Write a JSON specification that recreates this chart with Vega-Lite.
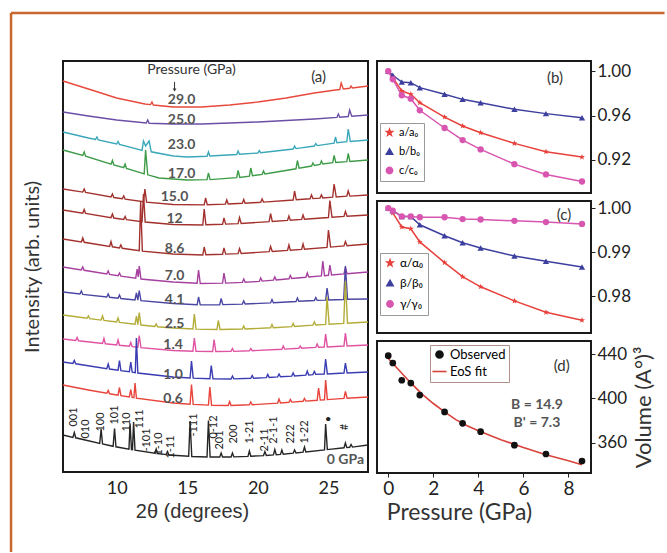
{
"$schema": "https://vega.github.io/schema/vega-lite/v6.json",
"background": "white",
"padding": {"left": 8, "top": 10, "right": 0, "bottom": 0},
"config": {"view": {"stroke": "#1a1a1a", "strokeWidth": 2}, "font": "Lato", "axis": {"grid": false, "domain": false, "labelColor": "#222", "titleColor": "#333", "titleFontWeight": "normal", "minExtent": 0, "tickColor": "#222", "labelFont": "Lato", "titleFont": "Lato"}},
"datasets": {
"xrd": [
{"p":"29.0","t":6.2,"i":391},{"p":"29.0","t":8,"i":383},{"p":"29.0","t":10,"i":374},{"p":"29.0","t":12,"i":368},{"p":"29.0","t":12.4,"i":367.4},{"p":"29.0","t":12.5,"i":370},{"p":"29.0","t":12.6,"i":367},{"p":"29.0","t":14,"i":365},{"p":"29.0","t":16,"i":365},{"p":"29.0","t":18,"i":367},{"p":"29.0","t":20,"i":370},{"p":"29.0","t":22,"i":374},{"p":"29.0","t":24,"i":379},{"p":"29.0","t":25.5,"i":382},{"p":"29.0","t":25.8,"i":382.5},{"p":"29.0","t":25.9,"i":389},{"p":"29.0","t":26.05,"i":383},{"p":"29.0","t":26.5,"i":383.7},{"p":"29.0","t":26.6,"i":386},{"p":"29.0","t":26.7,"i":384},{"p":"29.0","t":27.8,"i":386},
{"p":"25.0","t":6.2,"i":360},{"p":"25.0","t":8,"i":356},{"p":"25.0","t":10,"i":352},{"p":"25.0","t":12.1,"i":349},{"p":"25.0","t":12.2,"i":352},{"p":"25.0","t":12.3,"i":348.8},{"p":"25.0","t":14,"i":348},{"p":"25.0","t":16,"i":348},{"p":"25.0","t":18,"i":349},{"p":"25.0","t":20,"i":350},{"p":"25.0","t":22,"i":351.5},{"p":"25.0","t":24,"i":353},{"p":"25.0","t":25.6,"i":354.6},{"p":"25.0","t":25.7,"i":358},{"p":"25.0","t":25.8,"i":354.8},{"p":"25.0","t":26.4,"i":355.5},{"p":"25.0","t":26.5,"i":362},{"p":"25.0","t":26.65,"i":355.8},{"p":"25.0","t":27.8,"i":357},
{"p":"23.0","t":6.2,"i":340},{"p":"23.0","t":8,"i":334},{"p":"23.0","t":8.5,"i":332.5},{"p":"23.0","t":8.6,"i":335},{"p":"23.0","t":8.7,"i":332},{"p":"23.0","t":10,"i":328},{"p":"23.0","t":10.1,"i":330.5},{"p":"23.0","t":10.2,"i":327.6},{"p":"23.0","t":11.8,"i":321.6},{"p":"23.0","t":11.9,"i":331},{"p":"23.0","t":12.05,"i":326},{"p":"23.0","t":12.3,"i":331},{"p":"23.0","t":12.45,"i":320.2},{"p":"23.0","t":14,"i":316},{"p":"23.0","t":15,"i":315},{"p":"23.0","t":16.4,"i":315.8},{"p":"23.0","t":16.5,"i":320},{"p":"23.0","t":16.6,"i":316},{"p":"23.0","t":18.5,"i":317.5},{"p":"23.0","t":18.6,"i":321},{"p":"23.0","t":18.7,"i":317.7},{"p":"23.0","t":20,"i":319},{"p":"23.0","t":20.1,"i":321.5},{"p":"23.0","t":20.2,"i":319.3},{"p":"23.0","t":22.5,"i":323},{"p":"23.0","t":22.6,"i":326},{"p":"23.0","t":22.7,"i":323.4},{"p":"23.0","t":24,"i":326},{"p":"23.0","t":24.1,"i":328.5},{"p":"23.0","t":24.2,"i":326.4},{"p":"23.0","t":25.4,"i":328.8},{"p":"23.0","t":25.5,"i":335},{"p":"23.0","t":25.6,"i":329.2},{"p":"23.0","t":26.3,"i":330.3},{"p":"23.0","t":26.4,"i":343},{"p":"23.0","t":26.55,"i":330.6},{"p":"23.0","t":27.8,"i":332},
{"p":"17.0","t":6.2,"i":322},{"p":"17.0","t":7.6,"i":316.6},{"p":"17.0","t":7.7,"i":320},{"p":"17.0","t":7.8,"i":315.8},{"p":"17.0","t":9.6,"i":307.8},{"p":"17.0","t":9.7,"i":311.5},{"p":"17.0","t":9.8,"i":307},{"p":"17.0","t":10.5,"i":304.4},{"p":"17.0","t":10.6,"i":308},{"p":"17.0","t":10.7,"i":303.6},{"p":"17.0","t":11.95,"i":298.2},{"p":"17.0","t":12.05,"i":322},{"p":"17.0","t":12.2,"i":297.2},{"p":"17.0","t":13,"i":294},{"p":"17.0","t":15,"i":292},{"p":"17.0","t":16.4,"i":292.4},{"p":"17.0","t":16.5,"i":299},{"p":"17.0","t":16.62,"i":292.4},{"p":"17.0","t":18.5,"i":294.4},{"p":"17.0","t":18.6,"i":301.5},{"p":"17.0","t":18.72,"i":294.6},{"p":"17.0","t":19.4,"i":295.8},{"p":"17.0","t":19.5,"i":304},{"p":"17.0","t":19.62,"i":296.2},{"p":"17.0","t":20.3,"i":297.6},{"p":"17.0","t":20.4,"i":301},{"p":"17.0","t":20.5,"i":298},{"p":"17.0","t":22.7,"i":303.2},{"p":"17.0","t":22.8,"i":311.5},{"p":"17.0","t":22.92,"i":303.8},{"p":"17.0","t":23.8,"i":306},{"p":"17.0","t":23.9,"i":309},{"p":"17.0","t":24,"i":306.5},{"p":"17.0","t":24.4,"i":307.5},{"p":"17.0","t":24.5,"i":311},{"p":"17.0","t":24.6,"i":308},{"p":"17.0","t":25.3,"i":309.3},{"p":"17.0","t":25.4,"i":316.5},{"p":"17.0","t":25.52,"i":309.5},{"p":"17.0","t":26.3,"i":310.4},{"p":"17.0","t":26.4,"i":318.5},{"p":"17.0","t":26.52,"i":310.6},{"p":"17.0","t":27.8,"i":312},
{"p":"15.0","t":6.2,"i":283},{"p":"15.0","t":7.6,"i":279.9},{"p":"15.0","t":7.7,"i":283},{"p":"15.0","t":7.8,"i":279.5},{"p":"15.0","t":9.6,"i":275},{"p":"15.0","t":9.7,"i":278},{"p":"15.0","t":9.8,"i":274.5},{"p":"15.0","t":10.4,"i":273.2},{"p":"15.0","t":10.5,"i":276},{"p":"15.0","t":10.6,"i":272.8},{"p":"15.0","t":11.9,"i":270.2},{"p":"15.0","t":12.0,"i":283},{"p":"15.0","t":12.12,"i":269.9},{"p":"15.0","t":14,"i":267.5},{"p":"15.0","t":16.2,"i":267.1},{"p":"15.0","t":16.3,"i":274},{"p":"15.0","t":16.42,"i":267.2},{"p":"15.0","t":17.7,"i":267.9},{"p":"15.0","t":17.8,"i":272},{"p":"15.0","t":17.9,"i":268},{"p":"15.0","t":18.9,"i":268.7},{"p":"15.0","t":19.0,"i":272.5},{"p":"15.0","t":19.1,"i":268.8},{"p":"15.0","t":20.2,"i":269.7},{"p":"15.0","t":20.3,"i":273},{"p":"15.0","t":20.4,"i":269.9},{"p":"15.0","t":22.5,"i":272},{"p":"15.0","t":22.6,"i":281},{"p":"15.0","t":22.72,"i":272.2},{"p":"15.0","t":23.7,"i":273.2},{"p":"15.0","t":23.8,"i":277},{"p":"15.0","t":23.9,"i":273.4},{"p":"15.0","t":24.4,"i":273.9},{"p":"15.0","t":24.5,"i":277},{"p":"15.0","t":24.6,"i":274.1},{"p":"15.0","t":25.3,"i":274.8},{"p":"15.0","t":25.4,"i":288},{"p":"15.0","t":25.55,"i":275},{"p":"15.0","t":26.3,"i":275.8},{"p":"15.0","t":26.4,"i":281},{"p":"15.0","t":26.52,"i":275.9},{"p":"15.0","t":27.8,"i":277},
{"p":"12","t":6.2,"i":262},{"p":"12","t":7.6,"i":258.9},{"p":"12","t":7.7,"i":262.5},{"p":"12","t":7.8,"i":258.5},{"p":"12","t":9.6,"i":254.4},{"p":"12","t":9.7,"i":258},{"p":"12","t":9.8,"i":254},{"p":"12","t":10.5,"i":252.6},{"p":"12","t":10.6,"i":255.5},{"p":"12","t":10.7,"i":252.3},{"p":"12","t":11.8,"i":250.3},{"p":"12","t":11.9,"i":278},{"p":"12","t":12.02,"i":250},{"p":"12","t":14,"i":247.5},{"p":"12","t":16.1,"i":247},{"p":"12","t":16.2,"i":263},{"p":"12","t":16.32,"i":247.2},{"p":"12","t":17.5,"i":247.7},{"p":"12","t":17.6,"i":254},{"p":"12","t":17.72,"i":247.9},{"p":"12","t":18.6,"i":248.4},{"p":"12","t":18.7,"i":254.5},{"p":"12","t":18.82,"i":248.6},{"p":"12","t":20.8,"i":250.3},{"p":"12","t":20.9,"i":258.5},{"p":"12","t":21.02,"i":250.5},{"p":"12","t":22.1,"i":251.6},{"p":"12","t":22.2,"i":256},{"p":"12","t":22.3,"i":251.8},{"p":"12","t":23.1,"i":252.6},{"p":"12","t":23.2,"i":257},{"p":"12","t":23.3,"i":252.8},{"p":"12","t":25.0,"i":254.5},{"p":"12","t":25.1,"i":271.5},{"p":"12","t":25.25,"i":254.8},{"p":"12","t":26.1,"i":255.6},{"p":"12","t":26.2,"i":260.5},{"p":"12","t":26.32,"i":255.8},{"p":"12","t":27.8,"i":257},
{"p":"8.6","t":6.2,"i":233},{"p":"8.6","t":7.5,"i":230.1},{"p":"8.6","t":7.6,"i":234},{"p":"8.6","t":7.7,"i":229.7},{"p":"8.6","t":9.5,"i":225.6},{"p":"8.6","t":9.6,"i":230.5},{"p":"8.6","t":9.7,"i":225.2},{"p":"8.6","t":10.2,"i":224.1},{"p":"8.6","t":10.3,"i":227},{"p":"8.6","t":10.4,"i":223.7},{"p":"8.6","t":11.6,"i":221.3},{"p":"8.6","t":11.7,"i":270},{"p":"8.6","t":11.82,"i":220.9},{"p":"8.6","t":14,"i":218},{"p":"8.6","t":16.1,"i":217},{"p":"8.6","t":16.2,"i":225},{"p":"8.6","t":16.32,"i":217.2},{"p":"8.6","t":17.5,"i":217.7},{"p":"8.6","t":17.6,"i":224},{"p":"8.6","t":17.72,"i":217.9},{"p":"8.6","t":18.6,"i":218.4},{"p":"8.6","t":18.7,"i":223.5},{"p":"8.6","t":18.82,"i":218.6},{"p":"8.6","t":20.8,"i":220.3},{"p":"8.6","t":20.9,"i":225.5},{"p":"8.6","t":21.02,"i":220.5},{"p":"8.6","t":22.1,"i":221.6},{"p":"8.6","t":22.2,"i":227},{"p":"8.6","t":22.3,"i":221.8},{"p":"8.6","t":23.1,"i":222.6},{"p":"8.6","t":23.2,"i":228},{"p":"8.6","t":23.3,"i":222.8},{"p":"8.6","t":24.9,"i":224.6},{"p":"8.6","t":25.0,"i":242},{"p":"8.6","t":25.15,"i":224.9},{"p":"8.6","t":26.1,"i":226.1},{"p":"8.6","t":26.2,"i":230.5},{"p":"8.6","t":26.32,"i":226.3},{"p":"8.6","t":27.8,"i":228},
{"p":"7.0","t":6.2,"i":205},{"p":"7.0","t":7.5,"i":202.1},{"p":"7.0","t":7.6,"i":205},{"p":"7.0","t":7.7,"i":201.7},{"p":"7.0","t":9.3,"i":198},{"p":"7.0","t":9.4,"i":201},{"p":"7.0","t":9.5,"i":197.6},{"p":"7.0","t":10.1,"i":196.3},{"p":"7.0","t":10.2,"i":199},{"p":"7.0","t":10.3,"i":195.9},{"p":"7.0","t":11.35,"i":193.8},{"p":"7.0","t":11.45,"i":203},{"p":"7.0","t":11.53,"i":195},{"p":"7.0","t":11.6,"i":206},{"p":"7.0","t":11.72,"i":193},{"p":"7.0","t":14,"i":190},{"p":"7.0","t":15.7,"i":188.7},{"p":"7.0","t":15.8,"i":202},{"p":"7.0","t":15.92,"i":188.5},{"p":"7.0","t":17.5,"i":188.9},{"p":"7.0","t":17.6,"i":199},{"p":"7.0","t":17.72,"i":188.9},{"p":"7.0","t":18.9,"i":189.6},{"p":"7.0","t":19,"i":193},{"p":"7.0","t":19.1,"i":189.8},{"p":"7.0","t":20.1,"i":190.6},{"p":"7.0","t":20.2,"i":194},{"p":"7.0","t":20.3,"i":190.9},{"p":"7.0","t":21.1,"i":191.9},{"p":"7.0","t":21.2,"i":195},{"p":"7.0","t":21.3,"i":192.1},{"p":"7.0","t":22.2,"i":193.2},{"p":"7.0","t":22.3,"i":196.5},{"p":"7.0","t":22.4,"i":193.5},{"p":"7.0","t":23.4,"i":194.7},{"p":"7.0","t":23.5,"i":199},{"p":"7.0","t":23.6,"i":195},{"p":"7.0","t":24.5,"i":196.1},{"p":"7.0","t":24.6,"i":211},{"p":"7.0","t":24.72,"i":196.3},{"p":"7.0","t":25.0,"i":196.7},{"p":"7.0","t":25.1,"i":207},{"p":"7.0","t":25.22,"i":197},{"p":"7.0","t":26.1,"i":198.1},{"p":"7.0","t":26.2,"i":204.5},{"p":"7.0","t":26.32,"i":198.3},{"p":"7.0","t":27.8,"i":200},
{"p":"4.1","t":6.2,"i":180},{"p":"4.1","t":7.4,"i":178},{"p":"4.1","t":7.5,"i":181},{"p":"4.1","t":7.6,"i":177.6},{"p":"4.1","t":9.3,"i":175},{"p":"4.1","t":9.4,"i":178},{"p":"4.1","t":9.5,"i":174.7},{"p":"4.1","t":10.1,"i":173.8},{"p":"4.1","t":10.2,"i":177},{"p":"4.1","t":10.3,"i":173.5},{"p":"4.1","t":11.3,"i":172},{"p":"4.1","t":11.4,"i":179},{"p":"4.1","t":11.5,"i":171.8},{"p":"4.1","t":11.6,"i":181.5},{"p":"4.1","t":11.72,"i":171.4},{"p":"4.1","t":14,"i":168.5},{"p":"4.1","t":15.7,"i":167.2},{"p":"4.1","t":15.8,"i":175},{"p":"4.1","t":15.92,"i":167.1},{"p":"4.1","t":17.3,"i":167.3},{"p":"4.1","t":17.4,"i":173.5},{"p":"4.1","t":17.52,"i":167.4},{"p":"4.1","t":18.9,"i":167.9},{"p":"4.1","t":19,"i":171},{"p":"4.1","t":19.1,"i":168},{"p":"4.1","t":20.9,"i":169.1},{"p":"4.1","t":21,"i":172.5},{"p":"4.1","t":21.1,"i":169.3},{"p":"4.1","t":22.7,"i":170.5},{"p":"4.1","t":22.8,"i":174},{"p":"4.1","t":22.9,"i":170.7},{"p":"4.1","t":24,"i":171.5},{"p":"4.1","t":24.1,"i":174.5},{"p":"4.1","t":24.2,"i":171.6},{"p":"4.1","t":24.8,"i":171.9},{"p":"4.1","t":24.9,"i":184},{"p":"4.1","t":25.02,"i":172},{"p":"4.1","t":26.08,"i":172.5},{"p":"4.1","t":26.2,"i":206},{"p":"4.1","t":26.35,"i":172.7},{"p":"4.1","t":27.8,"i":173},
{"p":"2.5","t":6.2,"i":157},{"p":"2.5","t":7.9,"i":153.7},{"p":"2.5","t":8,"i":156},{"p":"2.5","t":8.1,"i":153.3},{"p":"2.5","t":8.9,"i":151.9},{"p":"2.5","t":9.0,"i":156},{"p":"2.5","t":9.1,"i":151.6},{"p":"2.5","t":10,"i":150},{"p":"2.5","t":10.1,"i":154},{"p":"2.5","t":10.2,"i":149.6},{"p":"2.5","t":11.3,"i":147.7},{"p":"2.5","t":11.4,"i":156},{"p":"2.5","t":11.5,"i":147.4},{"p":"2.5","t":11.6,"i":159.5},{"p":"2.5","t":11.72,"i":147},{"p":"2.5","t":12.7,"i":145.5},{"p":"2.5","t":12.8,"i":148},{"p":"2.5","t":12.9,"i":145.2},{"p":"2.5","t":14,"i":144},{"p":"2.5","t":15.4,"i":143},{"p":"2.5","t":15.5,"i":158},{"p":"2.5","t":15.62,"i":142.9},{"p":"2.5","t":17.1,"i":142.5},{"p":"2.5","t":17.2,"i":151.5},{"p":"2.5","t":17.32,"i":142.5},{"p":"2.5","t":18.9,"i":143},{"p":"2.5","t":19,"i":146},{"p":"2.5","t":19.1,"i":143},{"p":"2.5","t":20.9,"i":144.2},{"p":"2.5","t":21,"i":147.5},{"p":"2.5","t":21.1,"i":144.3},{"p":"2.5","t":22.4,"i":145.4},{"p":"2.5","t":22.5,"i":148.5},{"p":"2.5","t":22.6,"i":145.6},{"p":"2.5","t":23.9,"i":146.9},{"p":"2.5","t":24,"i":150},{"p":"2.5","t":24.1,"i":147},{"p":"2.5","t":24.8,"i":147.6},{"p":"2.5","t":24.9,"i":175},{"p":"2.5","t":25.05,"i":147.8},{"p":"2.5","t":26.08,"i":148.6},{"p":"2.5","t":26.2,"i":191},{"p":"2.5","t":26.35,"i":148.8},{"p":"2.5","t":27.8,"i":150},
{"p":"1.4","t":6.2,"i":133},{"p":"1.4","t":7.1,"i":131.5},{"p":"1.4","t":7.2,"i":134.5},{"p":"1.4","t":7.3,"i":131.2},{"p":"1.4","t":9.0,"i":128.5},{"p":"1.4","t":9.1,"i":133.5},{"p":"1.4","t":9.2,"i":128.2},{"p":"1.4","t":10,"i":127},{"p":"1.4","t":10.1,"i":132},{"p":"1.4","t":10.2,"i":126.7},{"p":"1.4","t":10.9,"i":125.7},{"p":"1.4","t":11.0,"i":129.5},{"p":"1.4","t":11.1,"i":125.4},{"p":"1.4","t":11.5,"i":124.8},{"p":"1.4","t":11.6,"i":136.5},{"p":"1.4","t":11.72,"i":124.4},{"p":"1.4","t":14,"i":121.5},{"p":"1.4","t":15.4,"i":120.8},{"p":"1.4","t":15.5,"i":134},{"p":"1.4","t":15.62,"i":120.7},{"p":"1.4","t":16.8,"i":120.5},{"p":"1.4","t":16.9,"i":132.5},{"p":"1.4","t":17.02,"i":120.5},{"p":"1.4","t":18.1,"i":120.6},{"p":"1.4","t":18.2,"i":123.5},{"p":"1.4","t":18.3,"i":120.6},{"p":"1.4","t":19.4,"i":121.2},{"p":"1.4","t":19.5,"i":123.5},{"p":"1.4","t":19.6,"i":121.3},{"p":"1.4","t":21.7,"i":122.8},{"p":"1.4","t":21.8,"i":126},{"p":"1.4","t":21.9,"i":122.9},{"p":"1.4","t":22.9,"i":123.7},{"p":"1.4","t":23,"i":126},{"p":"1.4","t":23.1,"i":123.8},{"p":"1.4","t":24.1,"i":124.6},{"p":"1.4","t":24.2,"i":128},{"p":"1.4","t":24.3,"i":124.7},{"p":"1.4","t":24.7,"i":125},{"p":"1.4","t":24.8,"i":138},{"p":"1.4","t":24.92,"i":125.1},{"p":"1.4","t":26.1,"i":126},{"p":"1.4","t":26.2,"i":139},{"p":"1.4","t":26.32,"i":126.1},{"p":"1.4","t":27.8,"i":127},
{"p":"1.0","t":6.2,"i":110},{"p":"1.0","t":6.9,"i":108.6},{"p":"1.0","t":7.0,"i":111.5},{"p":"1.0","t":7.1,"i":108.2},{"p":"1.0","t":9.3,"i":103.4},{"p":"1.0","t":9.4,"i":108},{"p":"1.0","t":9.5,"i":103},{"p":"1.0","t":10.1,"i":101.8},{"p":"1.0","t":10.2,"i":111.5},{"p":"1.0","t":10.3,"i":101.4},{"p":"1.0","t":10.9,"i":100.2},{"p":"1.0","t":11.0,"i":110},{"p":"1.0","t":11.1,"i":99.8},{"p":"1.0","t":11.32,"i":99.4},{"p":"1.0","t":11.4,"i":134},{"p":"1.0","t":11.5,"i":99},{"p":"1.0","t":14,"i":95},{"p":"1.0","t":15.2,"i":94},{"p":"1.0","t":15.3,"i":111},{"p":"1.0","t":15.42,"i":93.9},{"p":"1.0","t":16.6,"i":93.3},{"p":"1.0","t":16.7,"i":106.5},{"p":"1.0","t":16.82,"i":93.3},{"p":"1.0","t":18.1,"i":93},{"p":"1.0","t":18.2,"i":96},{"p":"1.0","t":18.3,"i":93.1},{"p":"1.0","t":19.5,"i":93.8},{"p":"1.0","t":19.6,"i":96.5},{"p":"1.0","t":19.7,"i":93.8},{"p":"1.0","t":20.6,"i":94.4},{"p":"1.0","t":20.7,"i":97.5},{"p":"1.0","t":20.8,"i":94.6},{"p":"1.0","t":21.4,"i":95.1},{"p":"1.0","t":21.5,"i":98},{"p":"1.0","t":21.6,"i":95.2},{"p":"1.0","t":22.4,"i":95.9},{"p":"1.0","t":22.5,"i":99},{"p":"1.0","t":22.6,"i":96},{"p":"1.0","t":23.4,"i":96.9},{"p":"1.0","t":23.5,"i":101},{"p":"1.0","t":23.6,"i":97.1},{"p":"1.0","t":23.9,"i":97.4},{"p":"1.0","t":24,"i":100.5},{"p":"1.0","t":24.1,"i":97.6},{"p":"1.0","t":24.7,"i":98},{"p":"1.0","t":24.8,"i":113},{"p":"1.0","t":24.92,"i":98.1},{"p":"1.0","t":26.1,"i":99},{"p":"1.0","t":26.2,"i":109},{"p":"1.0","t":26.32,"i":99.1},{"p":"1.0","t":27.8,"i":100},
{"p":"0.6","t":6.2,"i":87},{"p":"0.6","t":8,"i":82},{"p":"0.6","t":9.3,"i":78.8},{"p":"0.6","t":9.4,"i":81.5},{"p":"0.6","t":9.5,"i":78.2},{"p":"0.6","t":10.1,"i":76.8},{"p":"0.6","t":10.2,"i":84.5},{"p":"0.6","t":10.3,"i":76.3},{"p":"0.6","t":10.9,"i":75},{"p":"0.6","t":11.0,"i":82.5},{"p":"0.6","t":11.1,"i":74.6},{"p":"0.6","t":11.22,"i":74.3},{"p":"0.6","t":11.3,"i":89},{"p":"0.6","t":11.4,"i":73.8},{"p":"0.6","t":14,"i":69},{"p":"0.6","t":15.2,"i":67.8},{"p":"0.6","t":15.3,"i":87.5},{"p":"0.6","t":15.42,"i":67.6},{"p":"0.6","t":16.5,"i":66.9},{"p":"0.6","t":16.6,"i":85},{"p":"0.6","t":16.72,"i":66.8},{"p":"0.6","t":17.9,"i":66.5},{"p":"0.6","t":18,"i":70.5},{"p":"0.6","t":18.1,"i":66.5},{"p":"0.6","t":19.4,"i":67.2},{"p":"0.6","t":19.5,"i":70},{"p":"0.6","t":19.6,"i":67.3},{"p":"0.6","t":21.4,"i":68.9},{"p":"0.6","t":21.5,"i":73},{"p":"0.6","t":21.6,"i":69.1},{"p":"0.6","t":22.2,"i":69.7},{"p":"0.6","t":22.3,"i":72.5},{"p":"0.6","t":22.4,"i":69.9},{"p":"0.6","t":23.2,"i":70.7},{"p":"0.6","t":23.3,"i":73.5},{"p":"0.6","t":23.4,"i":70.9},{"p":"0.6","t":24.2,"i":71.7},{"p":"0.6","t":24.3,"i":84},{"p":"0.6","t":24.42,"i":71.9},{"p":"0.6","t":24.72,"i":72.2},{"p":"0.6","t":24.8,"i":92},{"p":"0.6","t":24.92,"i":72.4},{"p":"0.6","t":26.1,"i":73.6},{"p":"0.6","t":26.2,"i":80.5},{"p":"0.6","t":26.32,"i":73.8},{"p":"0.6","t":27.8,"i":75},
{"p":"0","t":6.2,"i":37},{"p":"0","t":6.9,"i":34.6},{"p":"0","t":7.0,"i":39.5},{"p":"0","t":7.1,"i":34.2},{"p":"0","t":8.8,"i":28.6},{"p":"0","t":8.9,"i":43},{"p":"0","t":9.0,"i":28},{"p":"0","t":9.75,"i":25.7},{"p":"0","t":9.85,"i":43.5},{"p":"0","t":9.95,"i":25.2},{"p":"0","t":10.87,"i":22.8},{"p":"0","t":10.95,"i":48.5},{"p":"0","t":11.05,"i":22.4},{"p":"0","t":11.12,"i":22.3},{"p":"0","t":11.2,"i":50},{"p":"0","t":11.3,"i":21.8},{"p":"0","t":12.7,"i":18.8},{"p":"0","t":12.8,"i":23},{"p":"0","t":12.9,"i":18.5},{"p":"0","t":13.5,"i":17.4},{"p":"0","t":13.6,"i":20.5},{"p":"0","t":13.7,"i":17},{"p":"0","t":15.1,"i":15.7},{"p":"0","t":15.2,"i":51},{"p":"0","t":15.32,"i":15.5},{"p":"0","t":16.4,"i":15},{"p":"0","t":16.5,"i":51.5},{"p":"0","t":16.62,"i":15},{"p":"0","t":17.3,"i":15},{"p":"0","t":17.4,"i":19},{"p":"0","t":17.5,"i":15},{"p":"0","t":18.1,"i":15},{"p":"0","t":18.2,"i":19},{"p":"0","t":18.3,"i":15.1},{"p":"0","t":19.3,"i":15.6},{"p":"0","t":19.4,"i":21},{"p":"0","t":19.5,"i":15.8},{"p":"0","t":20.4,"i":16.4},{"p":"0","t":20.5,"i":20.5},{"p":"0","t":20.6,"i":16.6},{"p":"0","t":21.1,"i":17.1},{"p":"0","t":21.2,"i":22.5},{"p":"0","t":21.3,"i":17.3},{"p":"0","t":21.6,"i":17.6},{"p":"0","t":21.7,"i":22},{"p":"0","t":21.8,"i":17.8},{"p":"0","t":22.5,"i":18.8},{"p":"0","t":22.6,"i":22},{"p":"0","t":22.7,"i":19},{"p":"0","t":23.2,"i":19.8},{"p":"0","t":23.3,"i":25},{"p":"0","t":23.4,"i":20},{"p":"0","t":24.72,"i":22.1},{"p":"0","t":24.8,"i":48},{"p":"0","t":24.92,"i":22.4},{"p":"0","t":26.1,"i":24.2},{"p":"0","t":26.2,"i":29},{"p":"0","t":26.3,"i":24.4},{"p":"0","t":26.5,"i":24.7},{"p":"0","t":26.6,"i":27.5},{"p":"0","t":26.7,"i":24.9},{"p":"0","t":27.8,"i":27}
],
"plab": [
{"l":"29.0","t":14.6,"i":372},{"l":"25.0","t":14.6,"i":352},{"l":"23.0","t":14.6,"i":327},{"l":"17.0","t":14.6,"i":298},{"l":"15.0","t":14.1,"i":275},{"l":"12","t":14.1,"i":253},{"l":"8.6","t":14.1,"i":223},{"l":"7.0","t":14.1,"i":196},{"l":"4.1","t":14.1,"i":172},{"l":"2.5","t":14.1,"i":148},{"l":"1.4","t":14.0,"i":127},{"l":"1.0","t":14.0,"i":97},{"l":"0.6","t":14.0,"i":73},{"l":"0 GPa","t":26.2,"i":12}
],
"miller": [
{"l":"001","t":6.95,"i":55},{"l":"010","t":7.8,"i":43},{"l":"100","t":8.87,"i":50},{"l":"101","t":9.86,"i":57},{"l":"110","t":10.7,"i":50},{"l":"111","t":11.63,"i":53},{"l":"-101","t":12.13,"i":32},{"l":"1-10","t":12.98,"i":28},{"l":"1-11","t":13.83,"i":25},{"l":"-111","t":15.46,"i":47},{"l":"0-12","t":16.88,"i":45},{"l":"201","t":17.3,"i":32},{"l":"200","t":18.3,"i":38},{"l":"1-21","t":19.43,"i":40},{"l":"2-11","t":20.5,"i":32},{"l":"2-1-1","t":21.13,"i":42},{"l":"222","t":22.34,"i":38},{"l":"1-22","t":23.33,"i":40},{"l":"•","t":25.04,"i":53},{"l":"#","t":26.17,"i":45}
],
"cell": [
{"q":"a/a₀","p":0,"v":1.0},{"q":"a/a₀","p":0.2,"v":0.9943},{"q":"a/a₀","p":0.6,"v":0.9822},{"q":"a/a₀","p":1.0,"v":0.9792},{"q":"a/a₀","p":1.4,"v":0.9716},{"q":"a/a₀","p":2.5,"v":0.9586},{"q":"a/a₀","p":3.3,"v":0.9505},{"q":"a/a₀","p":4.1,"v":0.9444},{"q":"a/a₀","p":5.6,"v":0.9348},{"q":"a/a₀","p":7.0,"v":0.9272},{"q":"a/a₀","p":8.6,"v":0.9224},
{"q":"b/b₀","p":0,"v":1.0},{"q":"b/b₀","p":0.2,"v":0.9964},{"q":"b/b₀","p":0.6,"v":0.9903},{"q":"b/b₀","p":1.0,"v":0.9897},{"q":"b/b₀","p":1.4,"v":0.9852},{"q":"b/b₀","p":2.5,"v":0.9792},{"q":"b/b₀","p":3.3,"v":0.9746},{"q":"b/b₀","p":4.1,"v":0.9716},{"q":"b/b₀","p":5.6,"v":0.9656},{"q":"b/b₀","p":7.0,"v":0.9617},{"q":"b/b₀","p":8.6,"v":0.958},
{"q":"c/c₀","p":0,"v":1.0},{"q":"c/c₀","p":0.2,"v":0.9928},{"q":"c/c₀","p":0.6,"v":0.9783},{"q":"c/c₀","p":1.0,"v":0.9752},{"q":"c/c₀","p":1.4,"v":0.9647},{"q":"c/c₀","p":2.5,"v":0.9487},{"q":"c/c₀","p":3.3,"v":0.9378},{"q":"c/c₀","p":4.1,"v":0.9293},{"q":"c/c₀","p":5.6,"v":0.916},{"q":"c/c₀","p":7.0,"v":0.9067},{"q":"c/c₀","p":8.6,"v":0.9003}
],
"angle": [
{"q":"α/α₀","p":0,"v":1.0},{"q":"α/α₀","p":0.2,"v":0.9989},{"q":"α/α₀","p":0.6,"v":0.9957},{"q":"α/α₀","p":1.0,"v":0.9953},{"q":"α/α₀","p":1.4,"v":0.9923},{"q":"α/α₀","p":2.5,"v":0.9876},{"q":"α/α₀","p":3.3,"v":0.9844},{"q":"α/α₀","p":4.1,"v":0.9821},{"q":"α/α₀","p":5.6,"v":0.9789},{"q":"α/α₀","p":7.0,"v":0.9763},{"q":"α/α₀","p":8.6,"v":0.9745},
{"q":"β/β₀","p":0,"v":1.0},{"q":"β/β₀","p":0.2,"v":0.9994},{"q":"β/β₀","p":0.6,"v":0.9981},{"q":"β/β₀","p":1.0,"v":0.9981},{"q":"β/β₀","p":1.4,"v":0.9962},{"q":"β/β₀","p":2.5,"v":0.9937},{"q":"β/β₀","p":3.3,"v":0.9921},{"q":"β/β₀","p":4.1,"v":0.9909},{"q":"β/β₀","p":5.6,"v":0.9891},{"q":"β/β₀","p":7.0,"v":0.9879},{"q":"β/β₀","p":8.6,"v":0.9866},
{"q":"γ/γ₀","p":0,"v":1.0},{"q":"γ/γ₀","p":0.2,"v":0.9994},{"q":"γ/γ₀","p":0.6,"v":0.9981},{"q":"γ/γ₀","p":1.0,"v":0.9981},{"q":"γ/γ₀","p":1.4,"v":0.9979},{"q":"γ/γ₀","p":2.5,"v":0.9979},{"q":"γ/γ₀","p":3.3,"v":0.9975},{"q":"γ/γ₀","p":4.1,"v":0.9974},{"q":"γ/γ₀","p":5.6,"v":0.9971},{"q":"γ/γ₀","p":7.0,"v":0.9968},{"q":"γ/γ₀","p":8.6,"v":0.9964}
],
"vol": [
{"p":0,"v":438.5},{"p":0.2,"v":431.9},{"p":0.6,"v":416.4},{"p":1.0,"v":413.9},{"p":1.4,"v":403.1},{"p":2.5,"v":387.9},{"p":3.3,"v":377.7},{"p":4.1,"v":370.2},{"p":5.6,"v":358.0},{"p":7.0,"v":350.1},{"p":8.6,"v":343.8}
],
"fit": [
{"p":0,"v":436},{"p":0.5,"v":425},{"p":1,"v":414},{"p":1.5,"v":404},{"p":2,"v":395.5},{"p":2.5,"v":388},{"p":3,"v":381},{"p":3.5,"v":375.5},{"p":4,"v":371},{"p":5,"v":363},{"p":6,"v":356},{"p":7,"v":349.5},{"p":8,"v":344},{"p":8.6,"v":340.5}
]
},
"spacing": 9,
"bounds": "flush",
"resolve": {"scale": {"color": "independent", "shape": "independent"}, "legend": {"color": "independent", "shape": "independent"}},
"hconcat": [
{
"width": 305, "height": 411,
"layer": [
{"data": {"name": "xrd"}, "mark": {"type": "line", "strokeWidth": 1.4},
 "encoding": {
  "x": {"field": "t", "type": "quantitative", "scale": {"domain": [6.2, 27.8], "nice": false, "zero": false},
        "axis": {"values": [10, 15, 20, 25], "ticks": false, "labelFontSize": 18, "labelPadding": 7, "title": "2θ (degrees)", "titleFont": "Liberation Sans", "titleFontSize": 20, "titlePadding": 4, "titleX": 129}},
  "y": {"field": "i", "type": "quantitative", "scale": {"domain": [0, 411], "nice": false, "zero": false},
        "axis": {"labels": false, "ticks": false, "title": "Intensity (arb. units)", "titleFontSize": 20, "titlePadding": 21}},
  "color": {"field": "p", "type": "nominal", "legend": null,
        "scale": {"domain": ["29.0","25.0","23.0","17.0","15.0","12","8.6","7.0","4.1","2.5","1.4","1.0","0.6","0"],
                  "range": ["#e8493d","#6b4ea5","#3aa8b9","#3e9b48","#a3322e","#a3322e","#a3322e","#a6409f","#4a46a3","#b3ad38","#e053a3","#3a3db2","#e8443b","#262626"]}}
 }},
{"data": {"name": "plab"}, "mark": {"type": "text", "fontSize": 14, "fontWeight": "bold", "color": "#555", "align": "center", "baseline": "middle"},
 "encoding": {"x": {"field": "t", "type": "quantitative"}, "y": {"field": "i", "type": "quantitative"}, "text": {"field": "l"}}},
{"data": {"name": "miller"}, "mark": {"type": "text", "fontSize": 11, "color": "#222", "angle": 270, "align": "center", "baseline": "middle"},
 "encoding": {"x": {"field": "t", "type": "quantitative"}, "y": {"field": "i", "type": "quantitative"}, "text": {"field": "l"}}},
{"data": {"values": [{}]}, "mark": {"type": "text", "fontSize": 14, "color": "#333", "align": "center", "baseline": "middle", "text": "Pressure (GPa)"},
 "encoding": {"x": {"datum": 15.3, "type": "quantitative"}, "y": {"datum": 402, "type": "quantitative"}}},
{"data": {"values": [{}]}, "mark": {"type": "text", "fontSize": 15, "color": "#333", "align": "center", "baseline": "middle", "text": "(a)"},
 "encoding": {"x": {"datum": 24.3, "type": "quantitative"}, "y": {"datum": 395, "type": "quantitative"}}},
{"data": {"values": [{}]}, "mark": {"type": "rule", "color": "#333", "strokeWidth": 1},
 "encoding": {"x": {"datum": 14.1, "type": "quantitative"}, "y": {"datum": 390, "type": "quantitative"}, "y2": {"datum": 383}}},
{"data": {"values": [{}]}, "mark": {"type": "point", "shape": "triangle-down", "filled": true, "color": "#333", "size": 14, "opacity": 1},
 "encoding": {"x": {"datum": 14.1, "type": "quantitative"}, "y": {"datum": 382, "type": "quantitative"}}},
{"data": {"values": [{}]}, "mark": {"type": "rule", "color": "#c9662c", "strokeWidth": 2.5},
 "encoding": {"x": {"datum": 2.52, "type": "quantitative"}, "y": {"datum": 459, "type": "quantitative"}, "y2": {"datum": -80}}},
{"data": {"values": [{}]}, "mark": {"type": "rule", "color": "#c9662c", "strokeWidth": 2.5},
 "encoding": {"x": {"datum": 2.52, "type": "quantitative"}, "x2": {"datum": 48.8}, "y": {"datum": 459, "type": "quantitative"}}}
]
},
{
"spacing": 8,
"bounds": "flush",
"resolve": {"scale": {"color": "independent", "shape": "independent"}, "legend": {"color": "independent", "shape": "independent"}},
"vconcat": [
{
"width": 214, "height": 132,
"layer": [
{"data": {"name": "cell"}, "mark": {"type": "line", "strokeWidth": 1.5},
 "encoding": {
  "x": {"field": "p", "type": "quantitative", "scale": {"domain": [-0.5, 9], "nice": false, "zero": false}, "axis": null},
  "y": {"field": "v", "type": "quantitative", "scale": {"domain": [0.8899, 1.0093], "nice": false, "zero": false},
        "axis": {"orient": "right", "values": [0.92, 0.96, 1.0], "format": ".2f", "labelFontSize": 17, "tickSize": 4, "labelPadding": 2, "title": null}},
  "color": {"field": "q", "type": "nominal", "scale": {"domain": ["a/a₀","b/b₀","c/c₀"], "range": ["#e8403a","#3d3f9e","#d856b0"]},
            "legend": {"orient": "none", "legendX": 3, "legendY": 62, "title": null, "strokeColor": "#999", "fillColor": "white", "padding": 4, "labelFontSize": 11, "symbolSize": 40, "rowPadding": 6}}
 }},
{"data": {"name": "cell"}, "mark": {"type": "point", "filled": true, "size": 40, "opacity": 1},
 "encoding": {
  "x": {"field": "p", "type": "quantitative"},
  "y": {"field": "v", "type": "quantitative"},
  "color": {"field": "q", "type": "nominal"},
  "shape": {"field": "q", "type": "nominal", "scale": {"domain": ["a/a₀","b/b₀","c/c₀"], "range": ["M0,-1L0.24,-0.33L0.95,-0.31L0.39,0.13L0.59,0.81L0,0.4L-0.59,0.81L-0.39,0.13L-0.95,-0.31L-0.24,-0.33Z", "triangle-up", "circle"]},
            "legend": {"orient": "none", "legendX": 3, "legendY": 62, "title": null, "strokeColor": "#999", "fillColor": "white", "padding": 4, "labelFontSize": 11, "symbolSize": 40, "rowPadding": 6}}
 }},
{"data": {"values": [{}]}, "mark": {"type": "text", "fontSize": 15, "color": "#333", "align": "center", "baseline": "middle", "text": "(b)"},
 "encoding": {"x": {"datum": 7.4, "type": "quantitative"}, "y": {"datum": 0.9939, "type": "quantitative"}}}
]
},
{
"width": 214, "height": 132,
"layer": [
{"data": {"name": "angle"}, "mark": {"type": "line", "strokeWidth": 1.5},
 "encoding": {
  "x": {"field": "p", "type": "quantitative", "scale": {"domain": [-0.5, 9], "nice": false, "zero": false}, "axis": null},
  "y": {"field": "v", "type": "quantitative", "scale": {"domain": [0.9716, 1.0016], "nice": false, "zero": false},
        "axis": {"orient": "right", "values": [0.98, 0.99, 1.0], "format": ".2f", "labelFontSize": 17, "tickSize": 4, "labelPadding": 2, "title": null}},
  "color": {"field": "q", "type": "nominal", "scale": {"domain": ["α/α₀","β/β₀","γ/γ₀"], "range": ["#e8403a","#3d3f9e","#d856b0"]},
            "legend": {"orient": "none", "legendX": 3, "legendY": 52, "title": null, "strokeColor": "#999", "fillColor": "white", "padding": 4, "labelFontSize": 12, "symbolSize": 40, "rowPadding": 8}}
 }},
{"data": {"name": "angle"}, "mark": {"type": "point", "filled": true, "size": 40, "opacity": 1},
 "encoding": {
  "x": {"field": "p", "type": "quantitative"},
  "y": {"field": "v", "type": "quantitative"},
  "color": {"field": "q", "type": "nominal"},
  "shape": {"field": "q", "type": "nominal", "scale": {"domain": ["α/α₀","β/β₀","γ/γ₀"], "range": ["M0,-1L0.24,-0.33L0.95,-0.31L0.39,0.13L0.59,0.81L0,0.4L-0.59,0.81L-0.39,0.13L-0.95,-0.31L-0.24,-0.33Z", "triangle-up", "circle"]},
            "legend": {"orient": "none", "legendX": 3, "legendY": 52, "title": null, "strokeColor": "#999", "fillColor": "white", "padding": 4, "labelFontSize": 12, "symbolSize": 40, "rowPadding": 8}}
 }},
{"data": {"values": [{}]}, "mark": {"type": "text", "fontSize": 15, "color": "#333", "align": "center", "baseline": "middle", "text": "(c)"},
 "encoding": {"x": {"datum": 7.8, "type": "quantitative"}, "y": {"datum": 0.9984, "type": "quantitative"}}}
]
},
{
"width": 214, "height": 132,
"layer": [
{"data": {"name": "fit"}, "mark": {"type": "line", "strokeWidth": 1.6},
 "encoding": {
  "x": {"field": "p", "type": "quantitative", "scale": {"domain": [-0.5, 9], "nice": false, "zero": false},
        "axis": {"values": [0, 2, 4, 6, 8], "labelFontSize": 19, "tickSize": 4, "labelPadding": 2, "title": "Pressure (GPa)", "titleFontSize": 23, "titlePadding": 3, "titleX": 82}},
  "y": {"field": "v", "type": "quantitative", "scale": {"domain": [333, 451.7], "nice": false, "zero": false},
        "axis": {"orient": "right", "values": [360, 400, 440], "labelFontSize": 17, "tickSize": 4, "labelPadding": 2, "title": "Volume (A°)³", "titleFontSize": 22, "titleAngle": 270, "titleBaseline": "top", "titlePadding": 7}},
  "color": {"datum": "EoS fit", "scale": {"domain": ["Observed", "EoS fit"], "range": ["#111111", "#d9433b"]},
            "legend": {"orient": "none", "legendX": 53, "legendY": 4, "title": null, "strokeColor": "#b09088", "fillColor": "white", "padding": 3, "labelFontSize": 13, "rowPadding": 3, "symbolSize": 50,
              "encode": {"symbols": {"update": {"shape": {"signal": "datum.value === 'EoS fit' ? 'stroke' : 'circle'"}, "stroke": {"signal": "datum.value === 'EoS fit' ? '#d9433b' : 'transparent'"}, "strokeWidth": {"value": 1.6}, "size": {"signal": "datum.value === 'EoS fit' ? 200 : 50"}}}}}}
 }},
{"data": {"name": "vol"}, "mark": {"type": "point", "filled": true, "size": 45, "opacity": 1},
 "encoding": {
  "x": {"field": "p", "type": "quantitative"},
  "y": {"field": "v", "type": "quantitative"},
  "color": {"datum": "Observed"}
 }},
{"data": {"values": [{}]}, "mark": {"type": "text", "fontSize": 15, "color": "#333", "align": "center", "baseline": "middle", "text": "(d)"},
 "encoding": {"x": {"datum": 7.7, "type": "quantitative"}, "y": {"datum": 429, "type": "quantitative"}}},
{"data": {"values": [{}]}, "mark": {"type": "text", "fontSize": 14, "fontWeight": "bold", "color": "#555", "align": "center", "baseline": "middle", "text": "B = 14.9"},
 "encoding": {"x": {"datum": 6.6, "type": "quantitative"}, "y": {"datum": 394, "type": "quantitative"}}},
{"data": {"values": [{}]}, "mark": {"type": "text", "fontSize": 14, "fontWeight": "bold", "color": "#555", "align": "center", "baseline": "middle", "text": "B' = 7.3"},
 "encoding": {"x": {"datum": 6.6, "type": "quantitative"}, "y": {"datum": 378, "type": "quantitative"}}}
]
}
]
}
]
}
